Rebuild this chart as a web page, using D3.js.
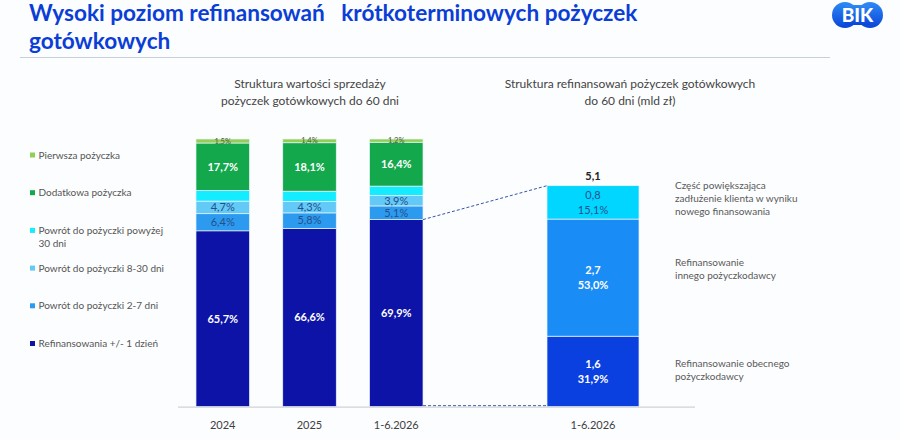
<!DOCTYPE html>
<html>
<head>
  <meta charset="utf-8">
  <script src="https://d3js.org/d3.v7.min.js"></script>
  <style>
    body { margin: 0; background: #fcfdfe; }
    svg text { font-family: Lato, "Open Sans", sans-serif; }
  </style>
</head>
<body>
<script>
  // left chart: share of sales value (%)
  var categories = ["2024", "2025", "1-6.2026"];
  var refin1Day = [65.7, 66.6, 69.9];
  var return2to7 = [6.4, 5.8, 5.1];
  var return8to30 = [4.7, 4.3, 3.9];
  var returnOver30 = [4.0, 3.8, 3.5];
  var additionalLoan = [17.7, 18.1, 16.4];
  var firstLoan = [1.5, 1.4, 1.2];
  var seriesNames = ["Refinansowania +/- 1 dzień", "Powrót do pożyczki 2-7 dni",
    "Powrót do pożyczki 8-30 dni", "Powrót do pożyczki powyżej 30 dni",
    "Dodatkowa pożyczka", "Pierwsza pożyczka"];

  // right chart: refinancing structure (mld zł and %)
  var rightCategory = ["1-6.2026"];
  var rightNames = ["Refinansowanie obecnego pożyczkodawcy", "Refinansowanie innego pożyczkodawcy",
    "Część powiększająca zadłużenie klienta w wyniku nowego finansowania"];
  var rightValues = [1.6, 2.7, 0.8];
  var rightShares = [31.9, 53.0, 15.1];
  var rightTotal = 5.1;

  var width = 900, height = 440;
  var leftColors = ["#0c13a6", "#2c9bef", "#63c9f6", "#14ecff", "#14a84c", "#92cf55"];
  var rightColors = ["#0a3fe0", "#1a8cf5", "#00d6ff"];

  var svg = d3.select("body").append("svg")
      .attr("width", width)
      .attr("height", height);

  // title (one text, two lines)
  var title = svg.append("text").attr("fill", "#0b3ed6")
      .attr("xml:space", "preserve")
      .style("font-weight", "bold").style("font-size", "22.6px");
  title.append("tspan").attr("x", 29).attr("y", 21)
      .text("Wysoki poziom refinansowań   krótkoterminowych pożyczek");
  title.append("tspan").attr("x", 29).attr("y", 48.5).text("gotówkowych");
  svg.append("line").attr("x1", 20).attr("x2", 830).attr("y1", 57.5).attr("y2", 57.5)
      .attr("stroke", "#c6cfdb").attr("stroke-width", 1.2);

  // BIK logo
  var logo = svg.append("g");
  var grad = svg.append("defs").append("linearGradient").attr("id", "bikg")
      .attr("x1", 0).attr("y1", 0).attr("x2", 0).attr("y2", 1);
  grad.append("stop").attr("offset", "0%").attr("stop-color", "#2e8af5");
  grad.append("stop").attr("offset", "100%").attr("stop-color", "#0a45d8");
  logo.append("circle").attr("cx", 845).attr("cy", 15).attr("r", 13).attr("fill", "url(#bikg)");
  logo.append("circle").attr("cx", 870).attr("cy", 15).attr("r", 13).attr("fill", "url(#bikg)");
  logo.append("rect").attr("x", 845).attr("y", 5).attr("width", 25).attr("height", 20).attr("fill", "url(#bikg)");
  logo.append("text").attr("x", 857.5).attr("y", 22).attr("text-anchor", "middle")
      .attr("fill", "#fff").style("font-weight", "900").style("font-size", "19px").text("BIK");

  // subtitles
  var sub = svg.append("g").attr("fill", "#444").style("font-size", "12px").attr("text-anchor", "middle");
  sub.append("text").attr("x", 310).attr("y", 88).text("Struktura wartości sprzedaży");
  sub.append("text").attr("x", 310).attr("y", 105).text("pożyczek gotówkowych do 60 dni");
  sub.append("text").attr("x", 630).attr("y", 88).text("Struktura refinansowań pożyczek gotówkowych");
  sub.append("text").attr("x", 630).attr("y", 105).text("do 60 dni (mld zł)");

  // scales
  var x = d3.scaleBand().domain(categories).range([179.5, 439.5])
      .paddingInner(0.383).paddingOuter(0.19);
  var y = d3.scaleLinear().domain([0, 100]).range([406.7, 139]);
  var x2 = d3.scaleBand().domain(rightCategory).range([547, 639]);
  var y2 = d3.scaleLinear().domain([0, 100]).range([406.7, 185.7]);

  // left stacked bars
  var rows = categories.map(function(c, i) {
    return { cat: c, s0: refin1Day[i], s1: return2to7[i], s2: return8to30[i],
             s3: returnOver30[i], s4: additionalLoan[i], s5: firstLoan[i] };
  });
  var keys = ["s0", "s1", "s2", "s3", "s4", "s5"];
  var stacked = d3.stack().keys(keys)(rows);
  var fmt = function(v) { return d3.format(".1f")(v).replace(".", ","); };

  var layers = svg.append("g").selectAll("g").data(stacked).join("g")
      .attr("fill", function(d, i) { return leftColors[i]; });
  layers.selectAll("rect").data(function(d) { return d; }).join("rect")
      .attr("x", function(d) { return x(d.data.cat); })
      .attr("width", x.bandwidth())
      .attr("y", function(d) { return y(d[1]); })
      .attr("height", function(d) { return y(d[0]) - y(d[1]); })
      .attr("stroke", "#eaf4ff").attr("stroke-width", 0.7);

  // left labels
  var labelStyle = [
    { fill: "#fff", weight: "bold", size: 11 },
    { fill: "#24508a", weight: "normal", size: 11 },
    { fill: "#24508a", weight: "normal", size: 11 },
    null,
    { fill: "#fff", weight: "bold", size: 11 },
    { fill: "#4a5a40", weight: "normal", size: 7.5 }
  ];
  stacked.forEach(function(layer, i) {
    var st = labelStyle[i];
    if (!st) return;
    svg.append("g").selectAll("text").data(layer).join("text")
        .attr("x", function(d) { return x(d.data.cat) + x.bandwidth() / 2; })
        .attr("y", function(d) { return (y(d[0]) + y(d[1])) / 2; })
        .attr("dy", "0.35em")
        .attr("text-anchor", "middle")
        .attr("fill", st.fill)
        .style("font-weight", st.weight)
        .style("font-size", st.size + "px")
        .text(function(d) { return fmt(d[1] - d[0]) + "%"; });
  });

  // right stacked bar
  var rightRow = { cat: rightCategory[0], r0: rightShares[0], r1: rightShares[1], r2: rightShares[2] };
  var rStack = d3.stack().keys(["r0", "r1", "r2"])([rightRow]);
  svg.append("g").selectAll("rect").data(rStack).join("rect")
      .attr("x", x2(rightCategory[0]))
      .attr("width", x2.bandwidth())
      .attr("y", function(d) { return y2(d[0][1]); })
      .attr("height", function(d) { return y2(d[0][0]) - y2(d[0][1]); })
      .attr("fill", function(d, i) { return rightColors[i]; })
      .attr("stroke", "#eaf4ff").attr("stroke-width", 0.7);

  var rcx = x2(rightCategory[0]) + x2.bandwidth() / 2;
  rStack.forEach(function(d, i) {
    var mid = (y2(d[0][0]) + y2(d[0][1])) / 2;
    var light = i === 2;
    var g = svg.append("g").attr("text-anchor", "middle")
        .attr("fill", light ? "#24508a" : "#fff")
        .style("font-weight", light ? "normal" : "bold").style("font-size", "11px");
    g.append("text").attr("x", rcx).attr("y", mid - 7).attr("dy", "0.35em").text(fmt(rightValues[i]));
    g.append("text").attr("x", rcx).attr("y", mid + 8).attr("dy", "0.35em").text(fmt(rightShares[i]) + "%");
  });
  svg.append("text").attr("x", rcx).attr("y", y2(100) - 10).attr("dy", "0.35em")
      .attr("text-anchor", "middle").attr("fill", "#222")
      .style("font-weight", "bold").style("font-size", "11px")
      .text(fmt(rightTotal));

  // right annotations
  var annot = [
    ["Refinansowanie obecnego", "pożyczkodawcy"],
    ["Refinansowanie", "innego pożyczkodawcy"],
    ["Część powiększająca", "zadłużenie klienta w wyniku", "nowego finansowania"]
  ];
  var annotOffset = [-1, -9, -4];
  rStack.forEach(function(d, i) {
    var mid = (y2(d[0][0]) + y2(d[0][1])) / 2 + annotOffset[i];
    var lines = annot[i];
    var t = svg.append("text").attr("x", 675).attr("fill", "#595959").style("font-size", "10px");
    lines.forEach(function(l, j) {
      t.append("tspan").attr("x", 675)
          .attr("y", mid + (j - (lines.length - 1) / 2) * 13)
          .attr("dy", "0.35em").text(l);
    });
  });

  // connector dashed lines
  var lastCat = categories[categories.length - 1];
  var dash = svg.append("g").attr("stroke", "#3654a8").attr("stroke-width", 1)
      .attr("stroke-dasharray", "3,2");
  dash.append("line")
      .attr("x1", x(lastCat) + x.bandwidth()).attr("y1", y(refin1Day[2]))
      .attr("x2", x2(rightCategory[0])).attr("y2", y2(100));
  dash.append("line")
      .attr("x1", x(lastCat) + x.bandwidth()).attr("y1", y(0) - 1)
      .attr("x2", x2(rightCategory[0])).attr("y2", y(0) - 1);

  // baseline
  svg.append("line").attr("x1", 178).attr("x2", 695).attr("y1", 407.2).attr("y2", 407.2)
      .attr("stroke", "#cfd3d8").attr("stroke-width", 1.2);

  // axes (labels only)
  var axL = svg.append("g").attr("transform", "translate(0,407)")
      .call(d3.axisBottom(x).tickSize(0).tickPadding(14));
  var axR = svg.append("g").attr("transform", "translate(0,407)")
      .call(d3.axisBottom(x2).tickSize(0).tickPadding(14));
  [axL, axR].forEach(function(a) {
    a.select(".domain").remove();
    a.selectAll("text").attr("fill", "#404040").style("font-size", "11px")
        .style("font-family", "Lato, sans-serif");
  });

  // legend
  var legendOrder = [5, 4, 3, 2, 1, 0];
  var legendLines = {
    3: ["Powrót do pożyczki powyżej", "30 dni"]
  };
  var leg = svg.append("g").style("font-size", "10px").attr("fill", "#555");
  legendOrder.forEach(function(si, k) {
    var ly = 155 + k * 37.7;
    leg.append("rect").attr("x", 30).attr("y", ly - 2.5).attr("width", 5).attr("height", 5)
        .attr("fill", leftColors[si]);
    var lines = legendLines[si] || [seriesNames[si]];
    var t = leg.append("text");
    lines.forEach(function(l, j) {
      t.append("tspan").attr("x", 38.5).attr("y", ly + j * 13.5).attr("dy", "0.35em").text(l);
    });
  });
</script>
</body>
</html>
